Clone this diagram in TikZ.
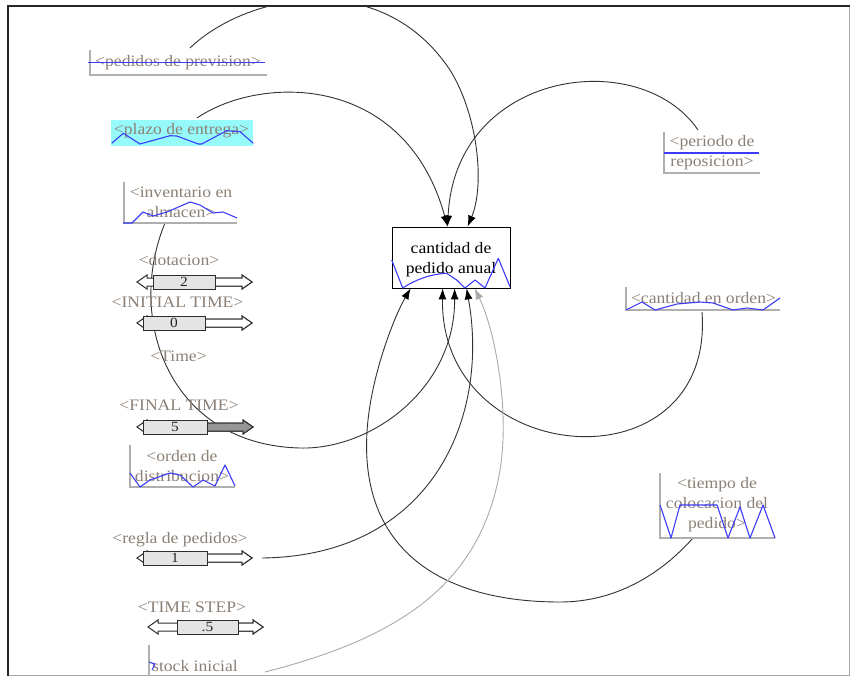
\documentclass[tikz,border=0pt]{standalone}
\usepackage{fontspec}
\setmainfont{Liberation Serif}[FakeStretch=1.1]
\usetikzlibrary{arrows.meta,calc}

\definecolor{lblgray}{RGB}{140,128,118}
\definecolor{axisgray}{RGB}{175,175,175}
\definecolor{sparkblue}{RGB}{60,60,250}
\definecolor{linkgray}{RGB}{50,50,50}
\definecolor{lightlink}{RGB}{170,170,170}
\definecolor{cyanfill}{RGB}{150,250,250}
\definecolor{thumbfill}{RGB}{228,228,228}
\definecolor{darkfill}{RGB}{150,150,150}
\definecolor{sliderline}{RGB}{45,45,45}

% slider: [right fill] {y}{left tip}{thumb left}{thumb right}{right tip}{name}{value}
\newcommand\sliderbar[8][white]{%
  \filldraw[sliderline, fill=white, line width=1pt]
    (#3,#2) -- (#3+10,#2-7) -- (#3+10,#2-4) -- (#6-10,#2-4) -- (#6-10,#2-7) -- (#6,#2)
    -- (#6-10,#2+7) -- (#6-10,#2+4) -- (#3+10,#2+4) -- (#3+10,#2+7) -- cycle;
  \filldraw[sliderline, fill=#1, line width=1pt]
    (#5,#2-4) -- (#6-10,#2-4) -- (#6-10,#2-7) -- (#6,#2) -- (#6-10,#2+7) -- (#6-10,#2+4) -- (#5,#2+4);
  \filldraw[sliderline, fill=thumbfill, line width=1pt] (#4,#2-7) rectangle (#5,#2+7);
  \node[valtxt] (#7) at ({(#4+#5)/2},#2) {#8};
}

\begin{document}
\begin{tikzpicture}[x=1pt, y=-1pt,
  lbl/.style={text=lblgray, font=\fontsize{16}{20}\selectfont, align=center, inner sep=0pt},
  valtxt/.style={text=black!85, font=\fontsize{14}{16}\selectfont, inner sep=0pt},
  axis/.style={draw=axisgray, line width=1.3pt},
  spark/.style={draw=sparkblue, line width=1.1pt, line join=round},
  link/.style={draw=linkgray, line width=0.9pt, -{Latex[length=11pt,width=8pt,color=black]}},
  softlink/.style={draw=lightlink, line width=0.9pt, -{Latex[length=11pt,width=8pt,color=lightlink]}},
  stockbox/.style={draw=black, fill=white, line width=0.8pt, minimum width=118pt, minimum height=61pt, inner sep=0pt}]

\useasboundingbox (0,0) rectangle (850,676);
\fill[white] (0,0) rectangle (850,676);

% frame
\draw[gray!70, line width=0.8pt] (8,675) -- (849,675) -- (849,6);
\draw[black!85, line width=2pt] (8,676) -- (8,6) -- (850,6);

% central stock
\node[stockbox] (cpa) at (451,257.5) {};
\coordinate (t-top1) at ($(cpa.north west)+(56,0)$);
\coordinate (t-top2) at ($(cpa.north west)+(76,0)$);
\coordinate (t-b1) at ($(cpa.south west)+(19,0)$);
\coordinate (t-b2) at ($(cpa.south west)+(51,0)$);
\coordinate (t-b3) at ($(cpa.south west)+(63,0)$);
\coordinate (t-b4) at ($(cpa.south west)+(75,0)$);
\coordinate (t-b5) at ($(cpa.south west)+(83,0)$);

% connector start points
\coordinate (src-pp) at (190,48);
\coordinate (src-pz) at (197,118);
\coordinate (src-pr) at (698,130);
\coordinate (src-inv) at (165,223);
\coordinate (src-rp) at (262,558);
\coordinate (src-co) at (702,312);
\coordinate (src-tc) at (693,538);
\coordinate (src-si) at (265,672);

% connectors
\begin{scope}
  \clip (9,7) rectangle (849,675);
  \draw[link] (src-pp) .. controls (245,-5) and (380,-35) .. (450,70)
              .. controls (478,115) and (485,185) .. (t-top2);
  \draw[link] (src-pz) .. controls (260,75) and (405,72) .. (t-top1);
  \draw[link] (src-pr) .. controls (640,45) and (455,70) .. (t-top1);
  \draw[link] (src-inv) .. controls (125,320) and (170,445) .. (300,448)
              .. controls (370,450) and (455,390) .. (t-b3);
  \draw[link] (src-rp) .. controls (430,556) and (490,420) .. (t-b4);
  \draw[link] (src-co) .. controls (715,490) and (440,470) .. (t-b2);
  \draw[link] (src-tc) .. controls (660,575) and (615,602) .. (560,602)
              .. controls (430,602) and (355,540) .. (368,420)
              .. controls (373.4,370) and (394.5,316) .. (t-b1);
  \draw[softlink] (src-si) .. controls (390,640) and (480,590) .. (500,470)
              .. controls (510,410) and (495,330) .. (t-b5);
\end{scope}

% central stock redrawn on top
\node[stockbox] (cpa-face) at (cpa) {};
\draw[black, line width=1.8pt] (cpa-face.south west) -- (cpa-face.south east);
\node[text=black, font=\fontsize{16}{20}\selectfont, align=center, inner sep=0pt] (cpa-txt) at (451,260) {cantidad de\\pedido anual};
\draw[spark] (391.7,260) -- (402.7,288) .. controls (415,280) and (430,274) .. (446.7,273.3)
  -- (456.7,280) -- (465,288) -- (475,280) -- (485,288) -- (498.3,258.3) -- (510,286.7);

% pedidos de prevision
\draw[axis] (90,50) -- (90,75) -- (267,75);
\node[lbl] (pedidos) at (178,63) {<pedidos de prevision>};
\draw[spark] (88,62.7) -- (265,62.7);

% plazo de entrega
\fill[cyanfill] (111,120) rectangle (253,146);
\node[lbl] (plazo) at (181.5,131) {<plazo de entrega>};
\draw[spark] (111.7,143.3) -- (123.3,133.3) -- (140,144) -- (170,135.7) -- (176.7,136)
  -- (198.3,144) -- (201.7,144) -- (226.7,130.7) -- (240,131.7) -- (253.3,143.3);

% inventario en almacen
\draw[axis] (124,182) -- (124,223) -- (237,223);
\node[lbl] (inventario) at (181,202.5) {<inventario en\\almacen>};
\draw[spark] (123,223) -- (132,223) -- (143,212) -- (153,216) -- (167,212) -- (190,202)
  -- (200,205) -- (213,213) -- (223,212) -- (237,218);

% sliders
\node[lbl] (dotacion) at (179,260) {<dotacion>};
\sliderbar{282}{137}{153}{215}{252}{dotacion-val}{2}
\node[lbl] (initial) at (177.5,302.7) {<INITIAL TIME>};
\sliderbar{323}{137}{143}{205}{252}{initial-val}{0}
\node[lbl] (time) at (178.5,356) {<Time>};
\node[lbl] (final) at (179,405.7) {<FINAL TIME>};
\sliderbar[darkfill]{427}{137}{143}{207}{253}{final-val}{5}

% orden de distribucion
\draw[axis] (130,445) -- (130,487) -- (235,487);
\node[lbl] (orden) at (182,466.5) {<orden de\\distribucion>};
\draw[spark] (130,473) -- (140,487) -- (150,480) -- (170,473) -- (180,475) -- (193,487)
  -- (203,480) -- (215,486) -- (225,465) -- (235,486);

\node[lbl] (regla) at (180,540) {<regla de pedidos>};
\sliderbar{558}{137}{143}{207}{252}{regla-val}{1}
\node[lbl] (step) at (192,607) {<TIME STEP>};
\sliderbar{627}{148}{177}{238}{263}{step-val}{.5}

% stock inicial
\draw[axis] (149,645) -- (149,676);
\node[lbl, anchor=west] (stock) at (152,666) {stock inicial};
\draw[spark] (149,662) -- (155,664) -- (152,670);

% periodo de reposicion
\draw[axis] (664,132) -- (664,173) -- (760,173);
\node[lbl] (periodo) at (712,153) {<periodo de\\reposicion>};
\draw[spark] (664,153) -- (759,153);

% cantidad en orden
\draw[axis] (626,287) -- (626,310) -- (780,310);
\node[lbl] (enorden) at (703.5,298) {<cantidad en orden>};
\draw[spark] (626,310) -- (642,302) -- (655,310) -- (677,304) -- (700,302) -- (713,303)
  -- (733,310) -- (747,308) -- (763,310) -- (780,298);

% tiempo de colocacion del pedido
\draw[axis] (660,473) -- (660,538) -- (775,538);
\node[lbl] (tiempo) at (717,505) {<tiempo de\\colocacion del\\pedido>};
\draw[spark] (660,505) -- (671,538) -- (680,505) -- (717,505) -- (728,538) -- (740,507)
  -- (750,538) -- (763,505) -- (775,538);

\end{tikzpicture}
\end{document}
